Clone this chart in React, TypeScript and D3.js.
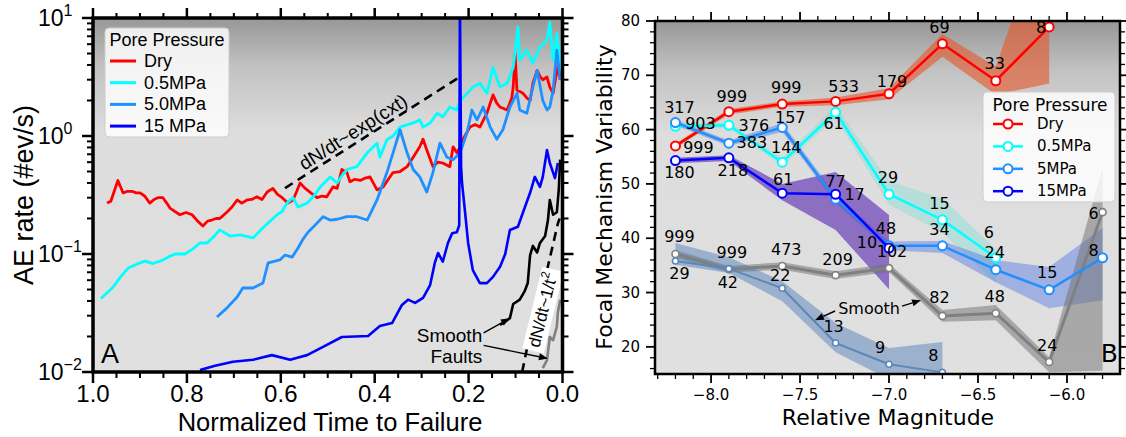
import React from "react";
import * as d3 from "d3";

// ---------- panel A: AE rate vs normalized time to failure ----------
// pairs: [normalized time to failure, AE rate (#ev/s)]
const dryRate: [number, number][] = [
  [0.970, 0.27], [0.962, 0.28], [0.947, 0.42], [0.936, 0.33], [0.926, 0.34], [0.917, 0.34],
  [0.908, 0.33], [0.900, 0.33], [0.890, 0.31], [0.879, 0.27], [0.870, 0.29], [0.862, 0.30],
  [0.851, 0.30], [0.843, 0.27], [0.836, 0.245], [0.826, 0.23], [0.815, 0.215], [0.802, 0.225],
  [0.789, 0.215], [0.777, 0.19], [0.766, 0.173], [0.756, 0.19], [0.747, 0.194], [0.738, 0.2],
  [0.730, 0.2], [0.715, 0.226], [0.704, 0.25], [0.693, 0.287], [0.683, 0.27], [0.672, 0.287],
  [0.662, 0.29], [0.651, 0.305], [0.640, 0.29], [0.629, 0.335], [0.617, 0.36], [0.607, 0.32],
  [0.597, 0.3], [0.585, 0.27], [0.574, 0.287], [0.566, 0.34], [0.559, 0.4], [0.548, 0.36],
  [0.538, 0.335], [0.523, 0.3], [0.512, 0.31], [0.502, 0.305], [0.489, 0.37], [0.480, 0.36],
  [0.470, 0.52], [0.459, 0.49], [0.453, 0.41], [0.442, 0.43], [0.431, 0.42], [0.420, 0.44],
  [0.410, 0.45], [0.395, 0.35], [0.382, 0.37], [0.371, 0.43], [0.361, 0.49], [0.346, 0.5],
  [0.331, 0.55], [0.318, 0.66], [0.304, 0.81], [0.297, 0.94], [0.289, 0.76], [0.276, 0.55],
  [0.265, 0.6], [0.255, 0.59], [0.240, 0.55], [0.233, 0.81], [0.225, 0.72], [0.218, 0.81],
  [0.212, 0.94], [0.205, 1.05], [0.197, 1.19], [0.186, 1.25], [0.176, 1.19], [0.161, 1.56],
  [0.148, 2.23], [0.140, 1.9], [0.133, 1.76], [0.118, 1.66], [0.108, 2.1], [0.105, 2.6],
  [0.101, 5.0], [0.097, 2.45], [0.084, 2.3], [0.076, 2.1], [0.069, 2.0], [0.063, 2.8],
  [0.054, 3.6], [0.048, 3.2], [0.042, 3.0], [0.033, 3.16], [0.027, 2.6], [0.020, 2.3],
  [0.014, 3.2], [0.010, 3.9], [0.005, 3.0],
];

const halfMPaRate: [number, number][] = [
  [0.983, 0.042], [0.970, 0.047], [0.957, 0.0525], [0.940, 0.065], [0.925, 0.076], [0.907, 0.082],
  [0.889, 0.087], [0.872, 0.083], [0.851, 0.089], [0.838, 0.095], [0.825, 0.1], [0.804, 0.1],
  [0.788, 0.11], [0.772, 0.124], [0.757, 0.124], [0.743, 0.14], [0.730, 0.16], [0.708, 0.142],
  [0.687, 0.145], [0.659, 0.137], [0.638, 0.167], [0.627, 0.183], [0.608, 0.215], [0.597, 0.23],
  [0.587, 0.27], [0.574, 0.3], [0.563, 0.25], [0.544, 0.27], [0.531, 0.305], [0.516, 0.37],
  [0.495, 0.45], [0.480, 0.4], [0.470, 0.46], [0.459, 0.52], [0.438, 0.55], [0.416, 0.72],
  [0.395, 0.87], [0.389, 0.66], [0.374, 0.93], [0.361, 1.0], [0.346, 1.19], [0.330, 1.25],
  [0.318, 1.29], [0.304, 1.37], [0.297, 1.19], [0.282, 1.29], [0.267, 1.56], [0.255, 1.45],
  [0.240, 1.76], [0.225, 1.66], [0.218, 2.0], [0.203, 2.3], [0.191, 2.6], [0.176, 2.8],
  [0.161, 2.3], [0.148, 3.8], [0.133, 2.6], [0.118, 2.8], [0.105, 3.8], [0.095, 8.4],
  [0.091, 4.4], [0.076, 5.35], [0.063, 4.15], [0.048, 5.7], [0.033, 6.5], [0.027, 9.2],
  [0.020, 4.4], [0.012, 7.4], [0.005, 3.8],
];

const fiveMPaRate: [number, number][] = [
  [0.736, 0.0292], [0.715, 0.0348], [0.693, 0.0432], [0.681, 0.0515], [0.659, 0.0515],
  [0.638, 0.0568], [0.627, 0.084], [0.602, 0.089], [0.591, 0.098], [0.576, 0.094],
  [0.563, 0.113], [0.553, 0.133], [0.542, 0.153], [0.531, 0.169], [0.510, 0.207],
  [0.495, 0.194], [0.480, 0.197], [0.459, 0.207], [0.438, 0.207], [0.416, 0.194],
  [0.395, 0.287], [0.374, 0.49], [0.357, 0.81], [0.346, 1.13], [0.331, 0.72], [0.318, 0.52],
  [0.304, 0.45], [0.289, 0.335], [0.276, 0.49], [0.261, 0.87], [0.246, 0.66], [0.233, 0.63],
  [0.218, 0.72], [0.203, 1.08], [0.193, 1.66], [0.182, 1.37], [0.169, 1.76], [0.154, 1.19],
  [0.140, 0.94], [0.127, 1.13], [0.112, 1.76], [0.097, 2.3], [0.091, 1.66], [0.076, 1.56],
  [0.063, 2.6], [0.054, 3.6], [0.042, 2.0], [0.033, 1.66], [0.027, 1.76], [0.020, 2.45],
  [0.012, 5.35], [0.005, 3.0],
];

const fifteenMPaRate: [number, number][] = [
  [0.772, 0.0104], [0.740, 0.0113], [0.702, 0.0122], [0.659, 0.0127], [0.619, 0.0139],
  [0.580, 0.0127], [0.559, 0.0134], [0.544, 0.0139], [0.510, 0.0163], [0.470, 0.0198],
  [0.414, 0.0202], [0.389, 0.0245], [0.363, 0.026], [0.342, 0.037], [0.329, 0.041],
  [0.314, 0.0385], [0.297, 0.0425], [0.282, 0.0546], [0.272, 0.084], [0.265, 0.102],
  [0.255, 0.086], [0.244, 0.124], [0.235, 0.15], [0.225, 0.153], [0.220, 0.175],
  [0.2185, 15], [0.216, 0.55], [0.214, 0.4], [0.208, 0.236], [0.201, 0.124], [0.191, 0.073],
  [0.176, 0.0566], [0.161, 0.0566], [0.148, 0.064], [0.133, 0.078], [0.122, 0.1],
  [0.112, 0.16], [0.095, 0.17], [0.080, 0.25], [0.069, 0.33], [0.059, 0.45], [0.048, 0.37],
  [0.042, 0.45], [0.033, 0.76], [0.027, 0.59], [0.016, 0.44], [0.010, 0.59],
];

const smoothFaultA: [number, number][] = [
  [0.133, 0.025], [0.112, 0.0286], [0.105, 0.0377], [0.091, 0.041], [0.080, 0.049],
  [0.074, 0.0568], [0.069, 0.098], [0.063, 0.117], [0.054, 0.103], [0.048, 0.124],
  [0.037, 0.142], [0.031, 0.194], [0.027, 0.287], [0.020, 0.215], [0.012, 0.226],
  [0.008, 0.35], [0.005, 0.63],
];

const smoothFaultB: [number, number][] = [
  [0.042, 0.0108], [0.033, 0.0126], [0.027, 0.0198], [0.020, 0.0186], [0.012, 0.0243],
  [0.010, 0.0316], [0.005, 0.041],
];

const expTrend: [number, number][] = [[0.591, 0.362], [0.219, 3.16]];
const powerTrend: [number, number][] = [[0.086, 0.01], [0.063, 0.0275], [0.033, 0.073], [0.0096, 0.183], [0.006, 0.2]];

const legendA = ["Dry", "0.5MPa", "5.0MPa", "15 MPa"];
const xTicksA = [1.0, 0.8, 0.6, 0.4, 0.2, 0.0];
const yTicksA = [0.01, 0.1, 1, 10];

// ---------- panel B: focal mechanism variability vs relative magnitude ----------
const magnitudes = [-8.2, -7.9, -7.6, -7.3, -7.0, -6.7, -6.4, -6.1, -5.8];

const dryFmv = [57.0, 63.3, 64.7, 65.2, 66.6, 75.8, 69.0, 78.9];
const dryLo = [56.6, 62.8, 64.2, 64.5, 65.6, 73.4, 66.4, 68.5];
const dryHi = [57.4, 63.8, 65.2, 65.9, 67.6, 77.6, 71.6, 100];
const dryCount = ["999", "999", "999", "533", "179", "69", "33", "8"];

const halfFmv = [60.6, 60.8, 54.0, 63.2, 48.1, 43.4, 36.4];
const halfLo = [60.2, 60.3, 53.3, 62.2, 46.2, 41.0, 31.8];
const halfHi = [61.0, 61.3, 54.8, 64.3, 50.5, 47.3, 38.0];
const halfCount = ["903", "376", "144", "61", "29", "15", "6"];

const fiveFmv = [61.3, 57.5, 60.4, 47.2, 38.6, 38.6, 34.2, 30.5, 36.4];
const fiveLo = [60.8, 57.0, 59.6, 46.5, 37.8, 37.3, 31.9, 27.1, 28.6];
const fiveHi = [61.8, 58.0, 61.2, 48.0, 39.4, 39.5, 36.0, 34.7, 41.9];
const fiveCount = ["317", "383", "157", "17", "48", "34", "24", "15", "8"];

const fifteenFmv = [54.3, 54.8, 48.3, 48.1, 38.2];
const fifteenLo = [53.8, 54.2, 47.0, 41.5, 30.6];
const fifteenHi = [54.8, 55.3, 50.0, 52.2, 44.3];
const fifteenCount = ["180", "218", "61", "77", "10"];

const smoothFmv = [37.1, 34.3, 34.9, 33.2, 34.5, 25.7, 26.2, 17.2, 44.8];
const smoothLo = [36.4, 33.7, 34.2, 32.5, 33.8, 24.6, 24.9, 15.3, 15.6];
const smoothHi = [37.8, 34.9, 35.6, 33.9, 35.3, 26.8, 27.7, 18.1, 53.0];
const smoothCount = ["999", "999", "473", "209", "102", "82", "48", "24", "6"];

const smooth2Fmv = [35.8, 34.4, 30.8, 20.7, 16.8, 15.3];
const smooth2Lo = [35.1, 33.6, 28.4, 19.0, 14.0, 14.0];
const smooth2Hi = [39.1, 36.5, 32.1, 24.4, 19.8, 20.9];
const smooth2Count = ["29", "42", "22", "13", "9", "8"];

const legendB = ["Dry", "0.5MPa", "5MPa", "15MPa"];

// label nudges in px (layout only)
const dryNudge = [[23, 2], [3, -15], [4, -17], [8, -15], [3, -12], [-3, -16], [-1, -17], [-8, 1]];
const halfNudge = [[25, -3], [25, 0], [4, -15], [-2, 11], [-1, -17], [-3, -16], [-7, -25]];
const fiveNudge = [[4, -15], [23, -1], [8, -10], [19, -5], [-3, -17], [-3, -16], [-1, -17], [-2, -17], [-9, -7]];
const fifteenNudge = [[4, 12], [4, 13], [1, -14], [0, -13], [-22, -6]];
const smoothNudge = [[4, -17], [3, -17], [4, -16], [2, -16], [3, -17], [-3, -18], [-1, -17], [-2, -17], [-9, 1]];
const smooth2Nudge = [[4, 12], [-1, 14], [-2, -13], [-2, -17], [-9, -17], [-9, -17]];

const A = { left: 93, right: 562.5, top: 18, bottom: 372 };
const B = { left: 655, right: 1120, top: 21, bottom: 374 };
const fontA = "'Liberation Sans', Arial, Helvetica, sans-serif";
const fontB = "'DejaVu Sans', sans-serif";

const Arrow = ({ x1, y1, x2, y2 }: any) => {
  const a = Math.atan2(y2 - y1, x2 - x1);
  const head = 9, w = 7;
  const bx = x2 - head * Math.cos(a), by = y2 - head * Math.sin(a);
  const px = (-Math.sin(a) * w) / 2, py = (Math.cos(a) * w) / 2;
  return (
    <g>
      <line x1={x1} y1={y1} x2={bx} y2={by} stroke="#000" strokeWidth={1.4} />
      <polygon points={`${x2},${y2} ${bx + px},${by + py} ${bx - px},${by - py}`} fill="#000" />
    </g>
  );
};

const Gradient = ({ id }: { id: string }) => (
  <linearGradient id={id} x1="0" y1="0" x2="0" y2="1">
    <stop offset="0" stopColor="#979797" />
    <stop offset="0.14" stopColor="#c2c2c2" />
    <stop offset="0.32" stopColor="#dddddd" />
    <stop offset="1" stopColor="#e0e0e0" />
  </linearGradient>
);

export default function App() {
  const xA = d3.scaleLinear().domain([1, 0]).range([A.left, A.right]);
  const yA = d3.scaleLog().domain([0.01, 10]).range([A.bottom, A.top]);
  const xB = d3.scaleLinear().domain([-8.315, -5.702]).range([B.left, B.right]);
  const yB = d3.scaleLinear().domain([15, 80]).range([B.bottom, B.top]);

  const lineA = d3.line<[number, number]>().x((d) => xA(d[0])).y((d) => yA(d[1]));

  const seriesA = [
    { data: dryRate, color: "#ff0000", w: 2.8 },
    { data: halfMPaRate, color: "#00ffff", w: 2.8 },
    { data: fiveMPaRate, color: "#1e90ff", w: 2.8 },
    { data: fifteenMPaRate, color: "#0000ff", w: 2.6 },
    { data: smoothFaultA, color: "#000000", w: 2.6 },
    { data: smoothFaultB, color: "#808080", w: 2.6 },
  ];
  const legendColorsA = ["#ff0000", "#00ffff", "#1e90ff", "#0000ff"];

  const xMinorA = d3.range(0, 21).filter((i) => i % 4 !== 0).map((i) => i * 0.05);
  const yMinorA: number[] = [];
  [0.01, 0.1, 1].forEach((dec) => d3.range(2, 10).forEach((k) => yMinorA.push(k * dec)));

  const seriesB = [
    { mean: dryFmv, lo: dryLo, hi: dryHi, n: dryCount, nudge: dryNudge, color: "#ff0000", band: "#e8552a", op: 0.6, w: 2.5, r: 4.5 },
    { mean: halfFmv, lo: halfLo, hi: halfHi, n: halfCount, nudge: halfNudge, color: "#00ffff", band: "#40e0d0", op: 0.25, w: 2.5, r: 4.5 },
    { mean: fiveFmv, lo: fiveLo, hi: fiveHi, n: fiveCount, nudge: fiveNudge, color: "#1e90ff", band: "#4169e1", op: 0.4, w: 2.5, r: 4.5 },
    { mean: fifteenFmv, lo: fifteenLo, hi: fifteenHi, n: fifteenCount, nudge: fifteenNudge, color: "#0000ff", band: "#6a3fb8", op: 0.7, w: 2.5, r: 4.5 },
  ];
  const smoothB = [
    { mean: smoothFmv, lo: smoothLo, hi: smoothHi, n: smoothCount, nudge: smoothNudge, color: "#808080", band: "#707070", op: 0.5, w: 3, r: 3.5 },
    { mean: smooth2Fmv, lo: smooth2Lo, hi: smooth2Hi, n: smooth2Count, nudge: smooth2Nudge, color: "#5d87b8", band: "#4a78b8", op: 0.45, w: 2, r: 3 },
  ];
  const allB = [...smoothB, ...seriesB];

  const bandB = (s: any) =>
    d3.area<number>().x((_, i) => xB(magnitudes[i])).y0((_, i) => yB(s.lo[i])).y1((_, i) => yB(s.hi[i]))(s.mean) || "";
  const lineB = (s: any) =>
    d3.line<number>().x((_, i) => xB(magnitudes[i])).y((d) => yB(d))(s.mean) || "";

  const xMajorB = [-8, -7.5, -7, -6.5, -6];
  const xMinorB = d3.range(-83, -56).filter((i) => i % 5 !== 0).map((i) => i / 10)
    .filter((v) => v >= -8.315 && v <= -5.702);
  const yMajorB = d3.range(20, 81, 10);
  const yMinorB = d3.range(16, 81, 2).filter((v) => v % 10 !== 0);

  // trend lines / annotations (panel A)
  const pE0 = [xA(expTrend[0][0]), yA(expTrend[0][1])];
  const pE1 = [xA(expTrend[1][0]), yA(expTrend[1][1])];
  const expAngle = (Math.atan2(pE1[1] - pE0[1], pE1[0] - pE0[0]) * 180) / Math.PI;
  const pP0 = [xA(powerTrend[0][0]), yA(powerTrend[0][1])];
  const pP1 = [xA(powerTrend[4][0]), yA(powerTrend[4][1])];
  const powAngle = (Math.atan2(pP1[1] - pP0[1], pP1[0] - pP0[0]) * 180) / Math.PI;
  const expLab = [xA(0.446), yA(1.08)];
  const powLab = [xA(0.0415), yA(0.0335)];

  const minus = (s: string) => s.replace("-", "\u2212");

  return (
    <svg width={1126} height={437} style={{ position: "absolute", left: 0, top: 0, background: "#fff" }}>
      <defs>
        <Gradient id="bgA" />
        <Gradient id="bgB" />
        <clipPath id="clipA">
          <rect x={A.left} y={A.top} width={A.right - A.left} height={A.bottom - A.top} />
        </clipPath>
        <clipPath id="clipB">
          <rect x={B.left} y={B.top} width={B.right - B.left} height={B.bottom - B.top} />
        </clipPath>
      </defs>

      {/* ================= Panel A ================= */}
      <rect x={A.left} y={A.top} width={A.right - A.left} height={A.bottom - A.top} fill="url(#bgA)" />
      <g clipPath="url(#clipA)" fill="none" strokeLinejoin="round">
        {seriesA.map((s, i) => (
          <path key={i} d={lineA(s.data) || ""} stroke={s.color} strokeWidth={s.w} />
        ))}
        <path d={lineA(expTrend) || ""} stroke="#000" strokeWidth={2.6} strokeDasharray="9,6" />
        <path d={lineA(powerTrend) || ""} stroke="#000" strokeWidth={2.6} strokeDasharray="9,6" />
      </g>
      <text x={expLab[0]} y={expLab[1]} fontFamily={fontA} fontSize={19} textAnchor="middle"
        dominantBaseline="central" transform={`rotate(${expAngle},${expLab[0]},${expLab[1]})`}>
        dN/dt~exp(cxt)
      </text>
      <g transform={`rotate(${powAngle},${powLab[0]},${powLab[1]})`}>
        <rect x={powLab[0] - 42} y={powLab[1] - 11} width={84} height={22} fill="#fff" />
        <text x={powLab[0]} y={powLab[1]} fontFamily={fontA} fontSize={17} textAnchor="middle" dominantBaseline="central">
          dN/dt~1/t<tspan dy={-6} fontSize={12}>2</tspan>
        </text>
      </g>
      <text x={xA(0.171)} y={yA(0.0179)} fontFamily={fontA} fontSize={19} textAnchor="end">Smooth</text>
      <text x={xA(0.171)} y={yA(0.0119)} fontFamily={fontA} fontSize={19} textAnchor="end">Faults</text>
      <Arrow x1={xA(0.168)} y1={yA(0.0215)} x2={xA(0.112)} y2={yA(0.0286)} />
      <Arrow x1={xA(0.168)} y1={yA(0.0168)} x2={xA(0.031)} y2={yA(0.013)} />
      <text x={101} y={363} fontFamily={fontA} fontSize={27}>A</text>

      {/* legend A */}
      <rect x={105} y={28} width={124} height={109} rx={4} fill="#fff" fillOpacity={0.82} stroke="#cccccc" />
      <text x={167} y={40} fontFamily={fontA} fontSize={18} textAnchor="middle" dominantBaseline="central">Pore Pressure</text>
      {legendA.map((l, i) => (
        <g key={l}>
          <line x1={110} x2={136} y1={61 + i * 21.7} y2={61 + i * 21.7} stroke={legendColorsA[i]} strokeWidth={3} />
          <text x={144} y={61 + i * 21.7} fontFamily={fontA} fontSize={18} dominantBaseline="central">{l}</text>
        </g>
      ))}

      {/* axes A */}
      <rect x={A.left} y={A.top} width={A.right - A.left} height={A.bottom - A.top} fill="none" stroke="#000" strokeWidth={3.5} />
      <g stroke="#000">
        {xTicksA.map((t) => (
          <g key={"xa" + t}>
            <line x1={xA(t)} x2={xA(t)} y1={A.bottom} y2={A.bottom + 11} strokeWidth={2.5} />
            <line x1={xA(t)} x2={xA(t)} y1={A.top} y2={A.top - 10} strokeWidth={2.5} />
          </g>
        ))}
        {xMinorA.map((t) => (
          <g key={"xam" + t}>
            <line x1={xA(t)} x2={xA(t)} y1={A.bottom} y2={A.bottom + 6} strokeWidth={2} />
            <line x1={xA(t)} x2={xA(t)} y1={A.top} y2={A.top - 5} strokeWidth={2} />
          </g>
        ))}
        {yTicksA.map((t) => (
          <g key={"ya" + t}>
            <line x1={A.left} x2={A.left - 11} y1={yA(t)} y2={yA(t)} strokeWidth={2.5} />
            <line x1={A.right} x2={A.right + 11} y1={yA(t)} y2={yA(t)} strokeWidth={2.5} />
          </g>
        ))}
        {yMinorA.map((t) => (
          <g key={"yam" + t}>
            <line x1={A.left} x2={A.left - 6} y1={yA(t)} y2={yA(t)} strokeWidth={2} />
            <line x1={A.right} x2={A.right + 6} y1={yA(t)} y2={yA(t)} strokeWidth={2} />
          </g>
        ))}
      </g>
      {xTicksA.map((t) => (
        <text key={"xal" + t} x={xA(t)} y={402} fontFamily={fontA} fontSize={24} textAnchor="middle">
          {d3.format(".1f")(t)}
        </text>
      ))}
      {yTicksA.map((t) => (
        <text key={"yal" + t} x={38} y={yA(t) + 8} fontFamily={fontA} fontSize={23}>
          10<tspan dy={-10} fontSize={16}>{minus(String(Math.round(Math.log10(t))))}</tspan>
        </text>
      ))}
      <text x={330} y={431} fontFamily={fontA} fontSize={25.5} textAnchor="middle">Normalized Time to Failure</text>
      <text transform="translate(33,195) rotate(-90)" fontFamily={fontA} fontSize={27} textAnchor="middle">AE rate (#ev/s)</text>

      {/* ================= Panel B ================= */}
      <rect x={B.left} y={B.top} width={B.right - B.left} height={B.bottom - B.top} fill="url(#bgB)" />
      <g clipPath="url(#clipB)">
        {[...seriesB, ...smoothB].map((s, i) => (
          <path key={"band" + i} d={bandB(s)} fill={s.band} fillOpacity={s.op} stroke="none" />
        ))}
        {allB.map((s, i) => (
          <g key={"ln" + i}>
            <path d={lineB(s)} fill="none" stroke={s.color} strokeWidth={s.w} strokeLinejoin="round" />
            {s.mean.map((v: number, j: number) => (
              <circle key={j} cx={xB(magnitudes[j])} cy={yB(v)} r={s.r} fill="#fff" stroke={s.color} strokeWidth={s.r > 4 ? 2 : 1.6} />
            ))}
          </g>
        ))}
      </g>
      {allB.map((s, i) =>
        s.n.map((lab: string, j: number) => (
          <text key={"n" + i + "-" + j} x={xB(magnitudes[j]) + s.nudge[j][0]} y={yB(s.mean[j]) + s.nudge[j][1]}
            fontFamily={fontB} fontSize={16} textAnchor="middle" dominantBaseline="central">
            {lab}
          </text>
        ))
      )}
      <text x={xB(-7.112)} y={yB(27.1)} fontFamily={fontB} fontSize={16} textAnchor="middle" dominantBaseline="central">Smooth</text>
      <Arrow x1={xB(-7.303)} y1={yB(26.6)} x2={xB(-7.416)} y2={yB(24.9)} />
      <Arrow x1={xB(-6.927)} y1={yB(27.5)} x2={xB(-6.82)} y2={yB(28.6)} />
      <text x={1118} y={362} fontFamily={fontB} fontSize={25} textAnchor="end">B</text>

      {/* legend B */}
      <rect x={983} y={92} width={132} height={110} rx={4} fill="#fff" fillOpacity={0.82} stroke="#cccccc" />
      <text x={1050} y={105} fontFamily={fontB} fontSize={17} textAnchor="middle" dominantBaseline="central">Pore Pressure</text>
      {legendB.map((l, i) => (
        <g key={l}>
          <line x1={993} x2={1023} y1={124 + i * 22.4} y2={124 + i * 22.4} stroke={seriesB[i].color} strokeWidth={2.5} />
          <circle cx={1008} cy={124 + i * 22.4} r={4.5} fill="#fff" stroke={seriesB[i].color} strokeWidth={2} />
          <text x={1037} y={124 + i * 22.4} fontFamily={fontB} fontSize={15} dominantBaseline="central">{l}</text>
        </g>
      ))}

      {/* axes B */}
      <rect x={B.left} y={B.top} width={B.right - B.left} height={B.bottom - B.top} fill="none" stroke="#000" strokeWidth={2.5} />
      <g stroke="#000">
        {xMajorB.map((t) => (
          <g key={"xb" + t}>
            <line x1={xB(t)} x2={xB(t)} y1={B.bottom} y2={B.bottom + 9} strokeWidth={1.8} />
            <line x1={xB(t)} x2={xB(t)} y1={B.top} y2={B.top - 9} strokeWidth={1.8} />
          </g>
        ))}
        {xMinorB.map((t) => (
          <g key={"xbm" + t}>
            <line x1={xB(t)} x2={xB(t)} y1={B.bottom} y2={B.bottom + 5} strokeWidth={1.3} />
            <line x1={xB(t)} x2={xB(t)} y1={B.top} y2={B.top - 5} strokeWidth={1.3} />
          </g>
        ))}
        {yMajorB.map((t) => (
          <g key={"yb" + t}>
            <line x1={B.left} x2={B.left - 9} y1={yB(t)} y2={yB(t)} strokeWidth={1.8} />
            <line x1={B.right} x2={B.right + 9} y1={yB(t)} y2={yB(t)} strokeWidth={1.8} />
          </g>
        ))}
        {yMinorB.map((t) => (
          <g key={"ybm" + t}>
            <line x1={B.left} x2={B.left - 5} y1={yB(t)} y2={yB(t)} strokeWidth={1.3} />
            <line x1={B.right} x2={B.right + 5} y1={yB(t)} y2={yB(t)} strokeWidth={1.3} />
          </g>
        ))}
      </g>
      {xMajorB.map((t) => (
        <text key={"xbl" + t} x={xB(t)} y={400} fontFamily={fontB} fontSize={15} textAnchor="middle">
          {minus(d3.format(".1f")(t))}
        </text>
      ))}
      {yMajorB.map((t) => (
        <text key={"ybl" + t} x={640} y={yB(t)} fontFamily={fontB} fontSize={15} textAnchor="end" dominantBaseline="central">
          {t}
        </text>
      ))}
      <text x={888} y={425} fontFamily={fontB} fontSize={22} textAnchor="middle">Relative Magnitude</text>
      <text transform="translate(612,197) rotate(-90)" fontFamily={fontB} fontSize={22} textAnchor="middle">
        Focal Mechanism Variability
      </text>
    </svg>
  );
}
